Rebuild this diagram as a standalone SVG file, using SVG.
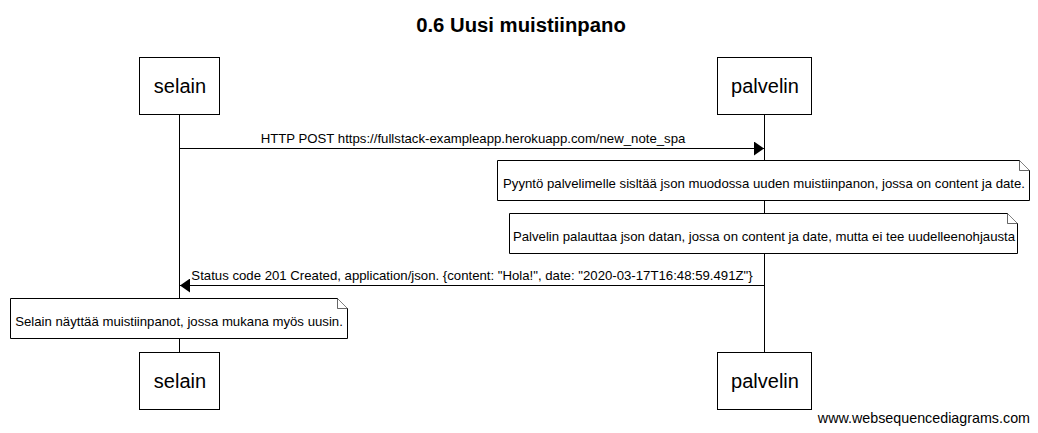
<svg xmlns="http://www.w3.org/2000/svg" width="1038" height="433" viewBox="0 0 1038 433">
<style>
.box{fill:#fff;stroke:#000;stroke-width:1}
.life{stroke:#000;stroke-width:1}
.msg{stroke:#000;stroke-width:1;fill:none}
.note{fill:#fff;stroke:#000;stroke-width:1}
.ear{fill:#fff;stroke:#000;stroke-width:0.6}
.actor{font-family:"Liberation Sans",Arial,sans-serif;font-size:20px;fill:#000;text-anchor:middle}
.lbl{font-family:"Liberation Sans",Arial,sans-serif;font-size:13.2px;fill:#000}
.title{font-family:"Liberation Sans",Arial,sans-serif;font-size:20.3px;font-weight:bold;fill:#000;text-anchor:middle}
.foot{font-family:"Liberation Sans",Arial,sans-serif;font-size:14.3px;fill:#000;text-anchor:end}
</style>
<defs>
<marker id="ah" markerWidth="10" markerHeight="14" refX="10" refY="7" orient="auto" markerUnits="userSpaceOnUse">
<path d="M0,0 L10,7 L0,14 Z" fill="#000"/>
</marker>
</defs>
<rect width="1038" height="433" fill="#fff"/>
<text class="title" x="521" y="32">0.6 Uusi muistiinpano</text>
<g id="lifelines">
<line class="life" x1="179.5" y1="114" x2="179.5" y2="352"/>
<line class="life" x1="764.5" y1="114" x2="764.5" y2="352"/>
</g>
<g id="connectors">
<line class="msg" x1="179.5" y1="148.5" x2="764" y2="148.5" marker-end="url(#ah)"/>
<text class="lbl" x="473" y="143" text-anchor="middle">HTTP POST https://fullstack-exampleapp.herokuapp.com/new_note_spa</text>
<line class="msg" x1="764.5" y1="285.5" x2="180" y2="285.5" marker-end="url(#ah)"/>
<text class="lbl" x="472" y="280" text-anchor="middle">Status code 201 Created, application/json. {content: "Hola!", date: "2020-03-17T16:48:59.491Z"}</text>
</g>
<g id="selain-top">
<rect class="box" x="139.5" y="57.5" width="80" height="57"/>
<text class="actor" x="180" y="93">selain</text>
</g>
<g id="palvelin-top">
<rect class="box" x="717.5" y="57.5" width="94" height="57"/>
<text class="actor" x="765" y="93">palvelin</text>
</g>
<g id="note1">
<path class="note" d="M497.5,160.5 H1019.5 L1029.5,170.5 V200.5 H497.5 Z"/>
<path class="ear" d="M1019.5,160.5 V170.5 H1029.5"/>
<text class="lbl" x="764" y="188" text-anchor="middle">Pyyntö palvelimelle sisltää json muodossa uuden muistiinpanon, jossa on content ja date.</text>
</g>
<g id="note2">
<path class="note" d="M509.5,213.5 H1007.5 L1017.5,223.5 V253.5 H509.5 Z"/>
<path class="ear" d="M1007.5,213.5 V223.5 H1017.5"/>
<text class="lbl" x="764" y="241" text-anchor="middle">Palvelin palauttaa json datan, jossa on content ja date, mutta ei tee uudelleenohjausta</text>
</g>
<g id="note3">
<path class="note" d="M10.5,298.5 H337.5 L347.5,308.5 V338.5 H10.5 Z"/>
<path class="ear" d="M337.5,298.5 V308.5 H347.5"/>
<text class="lbl" x="179" y="326" text-anchor="middle">Selain näyttää muistiinpanot, jossa mukana myös uusin.</text>
</g>
<g id="selain-bottom">
<rect class="box" x="139.5" y="352.5" width="80" height="57"/>
<text class="actor" x="180" y="388">selain</text>
</g>
<g id="palvelin-bottom">
<rect class="box" x="717.5" y="352.5" width="94" height="57"/>
<text class="actor" x="765" y="388">palvelin</text>
</g>
<text class="foot" x="1030" y="423">www.websequencediagrams.com</text>
</svg>
